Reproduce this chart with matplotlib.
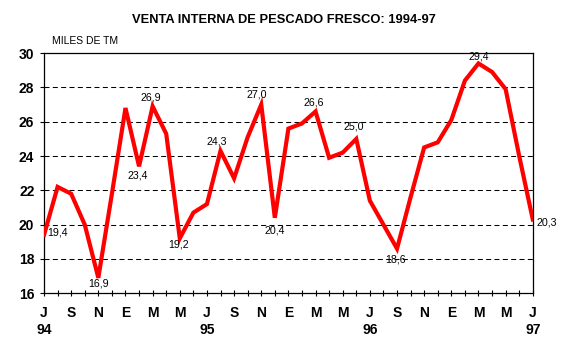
"""Venta interna de pescado fresco, julio 1994 - julio 1997"""

import matplotlib
matplotlib.use('Agg')
import matplotlib.pyplot as plt

plt.rcParams['font.family'] = ['Liberation Sans', 'DejaVu Sans']

# meses (jul-94 .. jul-97)
meses = ['J', 'A', 'S', 'O', 'N', 'D', 'E', 'F', 'M', 'A', 'M', 'J',
         'J', 'A', 'S', 'O', 'N', 'D', 'E', 'F', 'M', 'A', 'M', 'J',
         'J', 'A', 'S', 'O', 'N', 'D', 'E', 'F', 'M', 'A', 'M', 'J',
         'J']
anios = {0: '94', 12: '95', 24: '96', 36: '97'}

# miles de toneladas
venta = [19.4, 22.2, 21.8, 20.0, 16.9, 21.8, 26.8, 23.4, 26.9, 25.3, 19.2, 20.7,
         21.2, 24.3, 22.7, 25.1, 27.0, 20.4, 25.6, 25.9, 26.6, 23.9, 24.2, 25.0,
         21.4, 20.0, 18.6, 21.6, 24.5, 24.8, 26.1, 28.4, 29.4, 28.9, 27.9, 24.0,
         20.3]

# puntos con etiqueta de valor: indice -> (dx, dy, alineacion)
etiquetas = {0: (3, 2, 'left'), 4: (0, -6, 'center'), 7: (-1, -9, 'center'),
             8: (-2, 9, 'center'), 10: (-1, -6, 'center'), 13: (-4, 9, 'center'),
             16: (-4, 10, 'center'), 17: (0, -13, 'center'), 20: (-2, 9, 'center'),
             23: (-3, 12, 'center'), 26: (-1, -11, 'center'), 32: (0, 7, 'center'),
             36: (4, -3, 'left')}

fig = plt.figure(figsize=(5.68, 3.45), dpi=100)
ax = fig.add_axes([0.0775, 0.150, 0.8605, 0.696])

x = list(range(len(venta)))
ax.plot(x, venta, color='#ff0000', linewidth=3, solid_joinstyle='miter', zorder=3)

for i, (dx, dy, ha) in etiquetas.items():
    ax.annotate(f"{venta[i]:.1f}".replace('.', ','), (i, venta[i]),
                xytext=(dx, dy), textcoords='offset pixels',
                ha=ha, va='center', fontsize=7.7, zorder=4)

ax.set_xlim(0, 36)
ax.set_ylim(16, 30)

ax.set_yticks(range(16, 31, 2))
ax.set_yticklabels([str(v) for v in range(16, 31, 2)], fontsize=10, fontweight='bold')
ax.tick_params(axis='y', direction='out', length=3, width=0.8, pad=4)

ax.set_xticks(x)
xlabels = []
for i, m in enumerate(meses):
    if i % 2:
        xlabels.append('')
    elif i in anios:
        xlabels.append(m + '\n' + anios[i])
    else:
        xlabels.append(m)
ax.set_xticklabels(xlabels, fontsize=10, fontweight='bold', linespacing=1.25)
ax.tick_params(axis='x', direction='inout', length=5, width=0.8, pad=7)

for v in range(18, 30, 2):
    ax.axhline(v, color='black', linewidth=0.75, linestyle=(0, (4.8, 3.2)), zorder=1)

for s in ax.spines.values():
    s.set_linewidth(0.9)

fig.text(0.5, 0.942, 'VENTA INTERNA DE PESCADO FRESCO: 1994-97',
         ha='center', va='center', fontsize=9.3, fontweight='bold')
fig.text(0.0915, 0.881, 'MILES DE TM', ha='left', va='center', fontsize=7.5)

plt.savefig('out.png', dpi=100)
